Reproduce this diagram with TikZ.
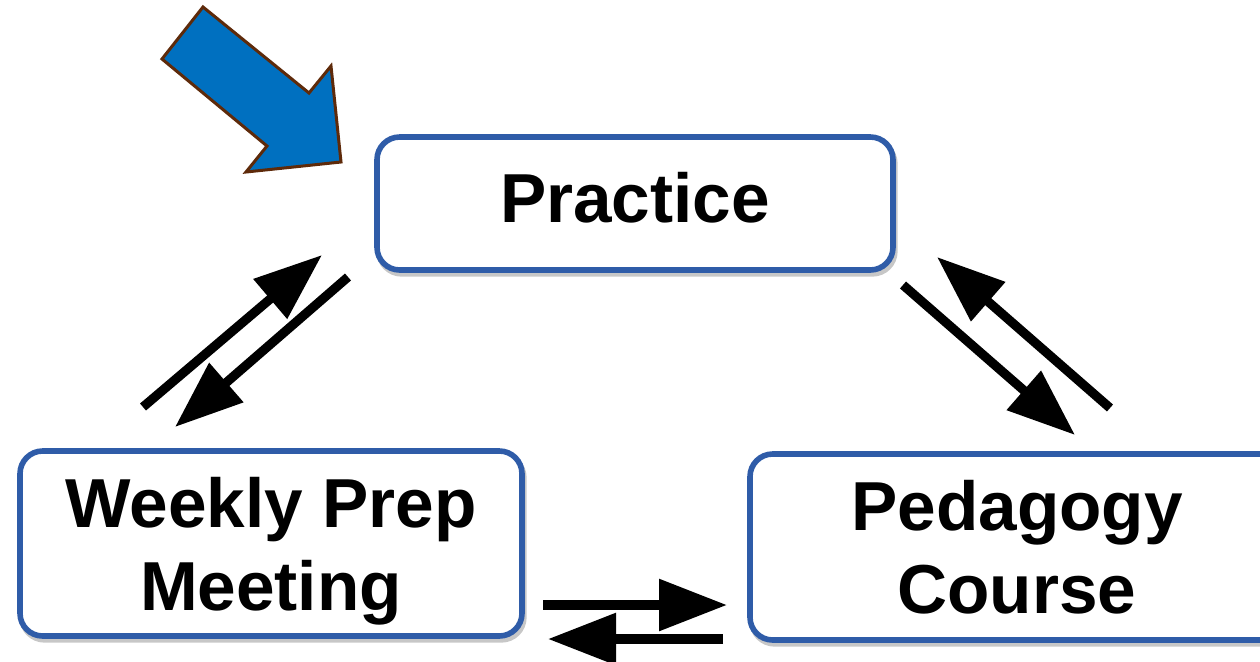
\documentclass[tikz,border=0pt]{standalone}
\usepackage{fontspec}
\setmainfont{Liberation Sans}
\usetikzlibrary{arrows.meta}
\definecolor{boxblue}{RGB}{47,92,168}
\definecolor{arrowblue}{RGB}{0,112,192}
\definecolor{arrowbrown}{RGB}{94,42,10}
\tikzset{
  stagebox/.style={draw=boxblue, line width=4.2pt, rounded corners=17pt, fill=white,
    align=center, font=\fontsize{52pt}{62.25pt}\selectfont\bfseries, inner sep=0pt},
  boxshadow/.style={draw=black!22, line width=4pt, rounded corners=17pt},
  flow/.style={line width=6.9pt, -{Triangle[length=51pt, width=37.5pt]}}
}
\begin{document}
\begin{tikzpicture}[x=0.75pt, y=-0.75pt]
\useasboundingbox (0,0) rectangle (1260,661);
\clip (0,0) rectangle (1260,661);
% shadows
\draw[boxshadow] (379,141) rectangle (895,274);
\draw[boxshadow] (22,455) rectangle (524,640);
\draw[boxshadow] (752,458) rectangle (1286,644);
% boxes
\node[stagebox, minimum width=387pt, minimum height=99.75pt, text depth=8.5pt] (practice) at (635,203.5) {Practice};
\node[stagebox, minimum width=376.5pt, minimum height=138.75pt, text depth=-7.3pt] (weekly) at (271,543.5) {Weekly Prep\\Meeting};
\node[stagebox, minimum width=400.5pt, minimum height=139.5pt, text depth=-8pt] (pedagogy) at (1017,547) {Pedagogy\\Course};
% blue arrow
\draw[fill=arrowblue, draw=arrowbrown, line width=2.25pt, line join=miter]
  (203,7) -- (309,93) -- (331,66) -- (341,162) -- (246,172) -- (267,146) -- (162,59) -- cycle;
% arrow end points
\coordinate (wp1) at (143,407);
\coordinate (wp2) at (322,255);
\coordinate (pw1) at (348,277);
\coordinate (pw2) at (175,427);
\coordinate (cp1) at (1110,408);
\coordinate (cp2) at (937,257);
\coordinate (pc1) at (903,285);
\coordinate (pc2) at (1075,435);
\coordinate (wc1) at (543,605);
\coordinate (wc2) at (727,605);
\coordinate (cw1) at (723,639);
\coordinate (cw2) at (548,639);
\draw[flow] (wp1) -- (wp2);
\draw[flow] (pw1) -- (pw2);
\draw[flow] (cp1) -- (cp2);
\draw[flow] (pc1) -- (pc2);
\draw[flow] (wc1) -- (wc2);
\draw[flow] (cw1) -- (cw2);
\end{tikzpicture}
\end{document}
